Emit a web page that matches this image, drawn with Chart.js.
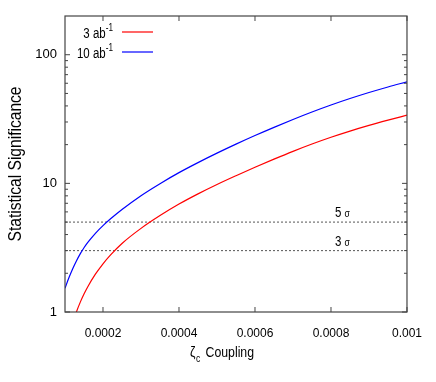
<!DOCTYPE html>
<html>
<head>
<meta charset="utf-8">
<script src="https://cdn.jsdelivr.net/npm/chart.js@4.4.1/dist/chart.umd.min.js"></script>
<style>
html,body{margin:0;padding:0;background:#fff;}
#wrap{width:436px;height:382px;}
</style>
</head>
<body>
<div id="wrap"><canvas id="c" width="436" height="382"></canvas></div>
<script>
// ---- data ----
const zetaBlue = [0.0001, 0.00011, 0.00012, 0.00013, 0.00014, 0.00015, 0.00016, 0.00018, 0.0002, 0.00022, 0.00025, 0.0003, 0.00035, 0.0004, 0.00045, 0.0005, 0.00055, 0.0006, 0.00065, 0.0007, 0.00075, 0.0008, 0.00085, 0.0009, 0.00095, 0.001];
const sig10 = [1.529, 1.835, 2.157, 2.491, 2.828, 3.157, 3.474, 4.091, 4.697, 5.307, 6.266, 8.025, 9.947, 12.12, 14.50, 17.17, 20.17, 23.53, 27.25, 31.36, 35.85, 40.63, 45.64, 50.84, 56.16, 61.58];
const zetaRed = [0.00012, 0.00013, 0.00014, 0.00015, 0.00016, 0.00018, 0.0002, 0.00022, 0.00025, 0.0003, 0.00035, 0.0004, 0.00045, 0.0005, 0.00055, 0.0006, 0.00065, 0.0007, 0.00075, 0.0008, 0.00085, 0.0009, 0.00095, 0.001];
const sig3 = [0.817, 1.0, 1.188, 1.378, 1.572, 1.967, 2.371, 2.782, 3.411, 4.467, 5.615, 6.901, 8.286, 9.802, 11.47, 13.35, 15.43, 17.74, 20.22, 22.82, 25.49, 28.21, 30.99, 33.91];
const sigmaLevels = [5, 3];
const sigmaLabels = ['5', '3'];
const xTicks = [0.0002, 0.0004, 0.0006, 0.0008, 0.001];
const xTickLabels = ['0.0002', '0.0004', '0.0006', '0.0008', '0.001'];
const yTicks = [1, 10, 100];
const yTickLabels = ['1', '10', '100'];
const yMinorTicks = [2,3,4,5,6,7,8,9,20,30,40,50,60,70,80,90];
const xRange = [0.0001, 0.001];
const yRange = [1, 200];
const seriesNames = ['3 ab', '10 ab'];
const seriesColors = ['#ff0000', '#0000ff'];

const FONT = '"Liberation Sans", Arial, sans-serif';
const SX = 0.82; // narrow look of the reference's font

function pts(xs, ys){ return xs.map((x,i)=>({x:x, y:ys[i]})); }

function ntext(ctx, str, x, y, size, align){
  ctx.save();
  ctx.font = size + 'px ' + FONT;
  ctx.textAlign = align || 'left';
  ctx.textBaseline = 'alphabetic';
  ctx.translate(x, y);
  ctx.scale(SX, 1);
  ctx.fillText(str, 0, 0);
  ctx.restore();
}
function nwidth(ctx, str, size){
  ctx.save(); ctx.font = size + 'px ' + FONT;
  const w = ctx.measureText(str).width * SX;
  ctx.restore(); return w;
}

const datasets = [
  {label: seriesNames[0], data: pts(zetaRed, sig3), borderColor: seriesColors[0], borderWidth: 1.2, pointRadius: 0, cubicInterpolationMode: 'monotone', fill:false},
  {label: seriesNames[1], data: pts(zetaBlue, sig10), borderColor: seriesColors[1], borderWidth: 1.2, pointRadius: 0, cubicInterpolationMode: 'monotone', fill:false}
];
sigmaLevels.forEach(v => {
  datasets.push({label: 'lvl'+v, data: [{x:xRange[0], y:v},{x:xRange[1], y:v}], borderColor: '#555', borderWidth: 1, borderDash: [2,2], pointRadius: 0, fill:false});
});

const decor = {
  id: 'decor',
  afterDraw(chart){
    const ctx = chart.ctx, a = chart.chartArea, xs = chart.scales.x, ys = chart.scales.y;
    ctx.save();
    ctx.strokeStyle = '#444'; ctx.lineWidth = 1;
    ctx.beginPath();
    yTicks.forEach(v => { const y = ys.getPixelForValue(v); ctx.moveTo(a.left, y); ctx.lineTo(a.left+5, y); ctx.moveTo(a.right, y); ctx.lineTo(a.right-5, y); });
    yMinorTicks.forEach(v => { const y = ys.getPixelForValue(v); ctx.moveTo(a.left, y); ctx.lineTo(a.left+3, y); ctx.moveTo(a.right, y); ctx.lineTo(a.right-3, y); });
    xTicks.forEach(v => { const x = xs.getPixelForValue(v); ctx.moveTo(x, a.bottom); ctx.lineTo(x, a.bottom-5); ctx.moveTo(x, a.top); ctx.lineTo(x, a.top+5); });
    ctx.stroke();
    ctx.strokeStyle = '#444'; ctx.lineWidth = 1.2;
    ctx.strokeRect(a.left, a.top, a.right-a.left, a.bottom-a.top);

    ctx.fillStyle = '#000';
    // sigma labels
    sigmaLevels.forEach((v,i) => {
      const y = ys.getPixelForValue(v) - 5;
      ntext(ctx, sigmaLabels[i], 335, y, 14, 'left');
      ntext(ctx, 'σ', 344.5, y, 10.5, 'left');
    });
    // legend
    const rows = [38, 58];
    seriesNames.forEach((n,i) => {
      const base = rows[i];
      const supW = nwidth(ctx, '-1', 10);
      ntext(ctx, '-1', 113, base - 7, 10, 'right');
      ntext(ctx, n, 113 - supW, base, 14, 'right');
      ctx.strokeStyle = seriesColors[i]; ctx.lineWidth = 1.2;
      ctx.beginPath(); ctx.moveTo(122, base - 6); ctx.lineTo(153, base - 6); ctx.stroke();
    });
    // x title
    ntext(ctx, 'ζ', 190, 357, 15, 'left');
    ntext(ctx, 'c', 196, 362, 10.5, 'left');
    ntext(ctx, 'Coupling', 205.5, 357, 15, 'left');
    // y title
    ctx.save();
    ctx.translate(16, (a.top + a.bottom)/2);
    ctx.rotate(-Math.PI/2);
    ctx.scale(SX, 1);
    ctx.font = '19px ' + FONT;
    ctx.textAlign = 'center'; ctx.textBaseline = 'middle';
    ctx.fillText('Statistical Significance', 0, 0);
    ctx.restore();
    ctx.restore();
  }
};

new Chart(document.getElementById('c'), {
  type: 'line',
  data: {datasets},
  options: {
    responsive: false, animation: false,
    layout: {padding: {left: 0, right: 24.5, top: 16, bottom: 0}},
    plugins: {legend: {display: false}, tooltip: {enabled: false}},
    scales: {
      x: {
        type: 'linear', min: xRange[0], max: xRange[1],
        grid: {display: false, drawTicks: false},
        border: {display: false},
        afterBuildTicks(s){ s.ticks = xTicks.map(v => ({value: v})); },
        afterFit(s){ s.height = 70; },
        ticks: {padding: 14, color: '#000', font: {family: FONT, size: 12}, maxRotation: 0,
          callback: (v) => { const i = xTicks.indexOf(v); return i >= 0 ? xTickLabels[i] : ''; }}
      },
      y: {
        type: 'logarithmic', min: yRange[0], max: yRange[1],
        grid: {display: false, drawTicks: false},
        border: {display: false},
        afterBuildTicks(s){ s.ticks = yTicks.map(v => ({value: v, major: true})); },
        afterFit(s){ s.width = 65; },
        ticks: {padding: 8, color: '#000', font: {family: FONT, size: 13},
          callback: (v) => { const i = yTicks.indexOf(v); return i >= 0 ? yTickLabels[i] : ''; }}
      }
    }
  },
  plugins: [decor]
});
</script>
</body>
</html>
